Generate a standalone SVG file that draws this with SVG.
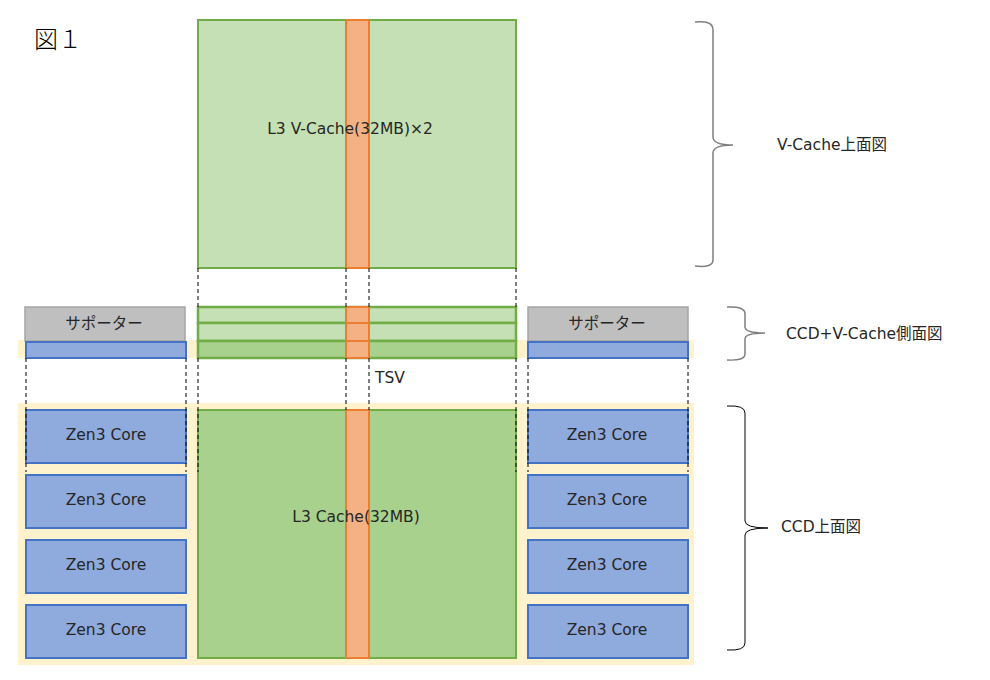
<svg xmlns="http://www.w3.org/2000/svg" width="990" height="680" viewBox="0 0 990 680">
<style>
text{font-family:"DejaVu Sans","Noto Sans CJK JP",sans-serif;font-size:15.5px;fill:#262626}
.vc{fill:#c5e0b4;stroke:#70ad47;stroke-width:2}
.l3{fill:#a9d18e;stroke:#70ad47;stroke-width:2}
.sv{stroke-width:2.5}
.or{fill:#f4b183;stroke:#ed7d31;stroke-width:2}
.core{fill:#8faadc;stroke:#4472c4;stroke-width:2}
.sup{fill:#bfbfbf;stroke:#a5a5a5;stroke-width:1.5}
.bg{fill:#fff2cc}
.dash{stroke:#000;stroke-width:1;stroke-dasharray:4 3;fill:none}
.brace{fill:none;stroke:#7f7f7f;stroke-width:1.5}
.braceK{fill:none;stroke:#000;stroke-width:1}
.c{text-anchor:middle}
</style>
<rect class="bg" x="18" y="340" width="676" height="18"/>
<rect class="bg" x="18" y="403" width="676" height="262"/>
<text x="34" y="48" style="font-family:'Noto Sans CJK JP',sans-serif;font-size:24px;font-weight:300;fill:#000">図１</text>
<g id="vcache-top">
<rect class="vc" x="198" y="20" width="318" height="248"/>
<rect class="or" x="346" y="20" width="23" height="248"/>
<text class="c" x="350" y="134">L3 V-Cache(32MB)×2</text>
</g>
<g id="side-view">
<rect class="vc sv" x="198" y="307" width="318" height="16"/>
<rect class="vc sv" x="198" y="323" width="318" height="18"/>
<rect class="l3 sv" x="198" y="341" width="318" height="17"/>
<rect class="or" x="346" y="307" width="23" height="16"/>
<rect class="or" x="346" y="323" width="23" height="18"/>
<rect class="or" x="346" y="341" width="23" height="17"/>
</g>
<g id="supporter-left">
<rect class="sup" x="25" y="307" width="160" height="34"/>
<text class="c" x="104" y="329">サポーター</text>
<rect class="core" x="26" y="342" width="160" height="16"/>
</g>
<g id="supporter-right">
<rect class="sup" x="528" y="307" width="160" height="34"/>
<text class="c" x="607" y="329">サポーター</text>
<rect class="core" x="528" y="342" width="160" height="16"/>
</g>
<g id="l3-cache">
<rect class="l3" x="198" y="410" width="318" height="248"/>
<rect class="or" x="346" y="410" width="23" height="248"/>
<text class="c" x="356" y="522">L3 Cache(32MB)</text>
</g>
<g id="core-l1"><rect class="core" x="26" y="410" width="160" height="53"/><text class="c" x="106" y="440">Zen3 Core</text></g>
<g id="core-l2"><rect class="core" x="26" y="475" width="160" height="53"/><text class="c" x="106" y="505">Zen3 Core</text></g>
<g id="core-l3"><rect class="core" x="26" y="540" width="160" height="53"/><text class="c" x="106" y="570">Zen3 Core</text></g>
<g id="core-l4"><rect class="core" x="26" y="605" width="160" height="53"/><text class="c" x="106" y="635">Zen3 Core</text></g>
<g id="core-r1"><rect class="core" x="528" y="410" width="160" height="53"/><text class="c" x="607" y="440">Zen3 Core</text></g>
<g id="core-r2"><rect class="core" x="528" y="475" width="160" height="53"/><text class="c" x="607" y="505">Zen3 Core</text></g>
<g id="core-r3"><rect class="core" x="528" y="540" width="160" height="53"/><text class="c" x="607" y="570">Zen3 Core</text></g>
<g id="core-r4"><rect class="core" x="528" y="605" width="160" height="53"/><text class="c" x="607" y="635">Zen3 Core</text></g>
<g id="connectors">
<path class="dash" d="M198 268V307M346 268V307M369 268V307M516 268V307"/>
<path class="dash" d="M198 358V472M516 358V472M346 358V410M369 358V410M26 358V472M186 358V472M528 358V472M688 358V472"/>
<path class="brace" d="M695 22Q713 20 713 30V137Q713 145 733 145Q713 145 713 153V260Q713 268 695 266"/>
<path class="brace" d="M727 307Q745 306 745 314V327Q745 333 765 333Q745 333 745 339V354Q745 361 727 360"/>
<path class="braceK" d="M727 406Q745 405 745 413V521Q745 528 768 528Q745 528 745 535V643Q745 651 727 650"/>
</g>
<text x="777" y="150">V-Cache上面図</text>
<text x="786" y="339">CCD+V-Cache側面図</text>
<text x="781" y="532">CCD上面図</text>
<text x="375" y="383">TSV</text>
</svg>
